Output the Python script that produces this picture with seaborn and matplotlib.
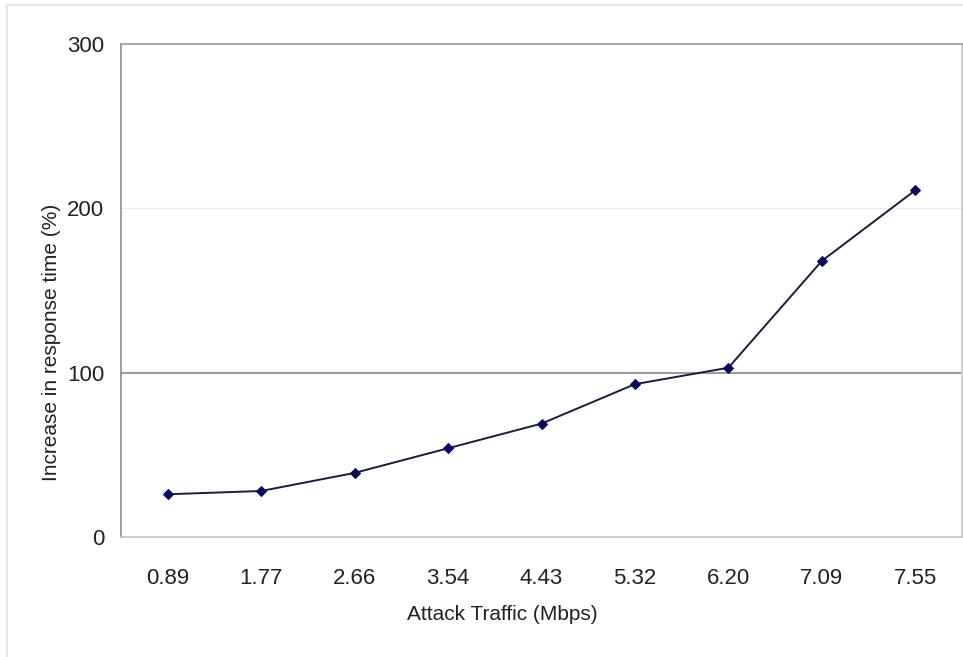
import pandas as pd
import seaborn as sns
import matplotlib.pyplot as plt
from matplotlib.patches import Rectangle

# values
traffic = ["0.89", "1.77", "2.66", "3.54", "4.43", "5.32", "6.20", "7.09", "7.55"]
increase = [26, 28, 39, 54, 69, 93, 103, 168, 211]
y_ticks = [0, 100, 200, 300]

df = pd.DataFrame({"traffic": traffic, "increase": increase})

sns.set_style("white")
plt.rcParams["font.family"] = ["Liberation Sans", "DejaVu Sans"]

fig = plt.figure(figsize=(9.63, 6.57), dpi=100)
ax = fig.add_axes([121 / 963, 1 - 537 / 657, 841 / 963, 493 / 657])

# faint outer chart-area frame, Excel style
fig.patches.append(Rectangle((7 / 963, -0.01), 1.0, 1 - 5 / 657 + 0.01, transform=fig.transFigure,
                             fill=False, edgecolor="#e4e4e4", linewidth=1.2, zorder=0))

# horizontal gridlines
ax.axhline(100, color="#7f7f7f", linewidth=1.1, zorder=1)
ax.axhline(200, color="#ececec", linewidth=1.0, zorder=1)

sns.lineplot(data=df, x="traffic", y="increase", ax=ax, sort=False,
             color="#1c1c3a", linewidth=1.4, marker="D", markersize=5,
             markerfacecolor="#0b0b5c", markeredgecolor="#0b0b5c", zorder=3)

ax.set_xlim(-0.5, len(traffic) - 0.5)
ax.set_ylim(0, 300)
ax.set_yticks(y_ticks)
ax.set_yticklabels([str(v) for v in y_ticks])

# category labels centred, tick marks at category boundaries
ax.set_xticks(range(len(traffic)))
ax.set_xticklabels(traffic)
ax.set_xticks([i - 0.5 for i in range(len(traffic) + 1)], minor=True)
ax.tick_params(axis="x", which="major", length=0, labelsize=16, pad=22, colors="#222222")
ax.tick_params(axis="x", which="minor", length=5, width=1, color="#9a9a9a", direction="out")
ax.tick_params(axis="y", length=7, width=1, color="#8a8a8a", direction="out", labelsize=16,
               pad=5, labelcolor="#222222")

ax.set_xlabel("Attack Traffic (Mbps)", fontsize=15, color="#222222")
ax.set_ylabel("Increase in response time (%)", fontsize=15, color="#222222")
ax.xaxis.set_label_coords(0.453, -0.137)
ax.yaxis.set_label_coords(-0.071, 0.394)

ax.spines["top"].set_color("#9a9a9a")
ax.spines["left"].set_color("#8c8c8c")
ax.spines["bottom"].set_color("#c4c4c4")
ax.spines["right"].set_color("#c8c8c8")
for s in ax.spines.values():
    s.set_linewidth(1.2)

fig.savefig("out.png", dpi=100)
